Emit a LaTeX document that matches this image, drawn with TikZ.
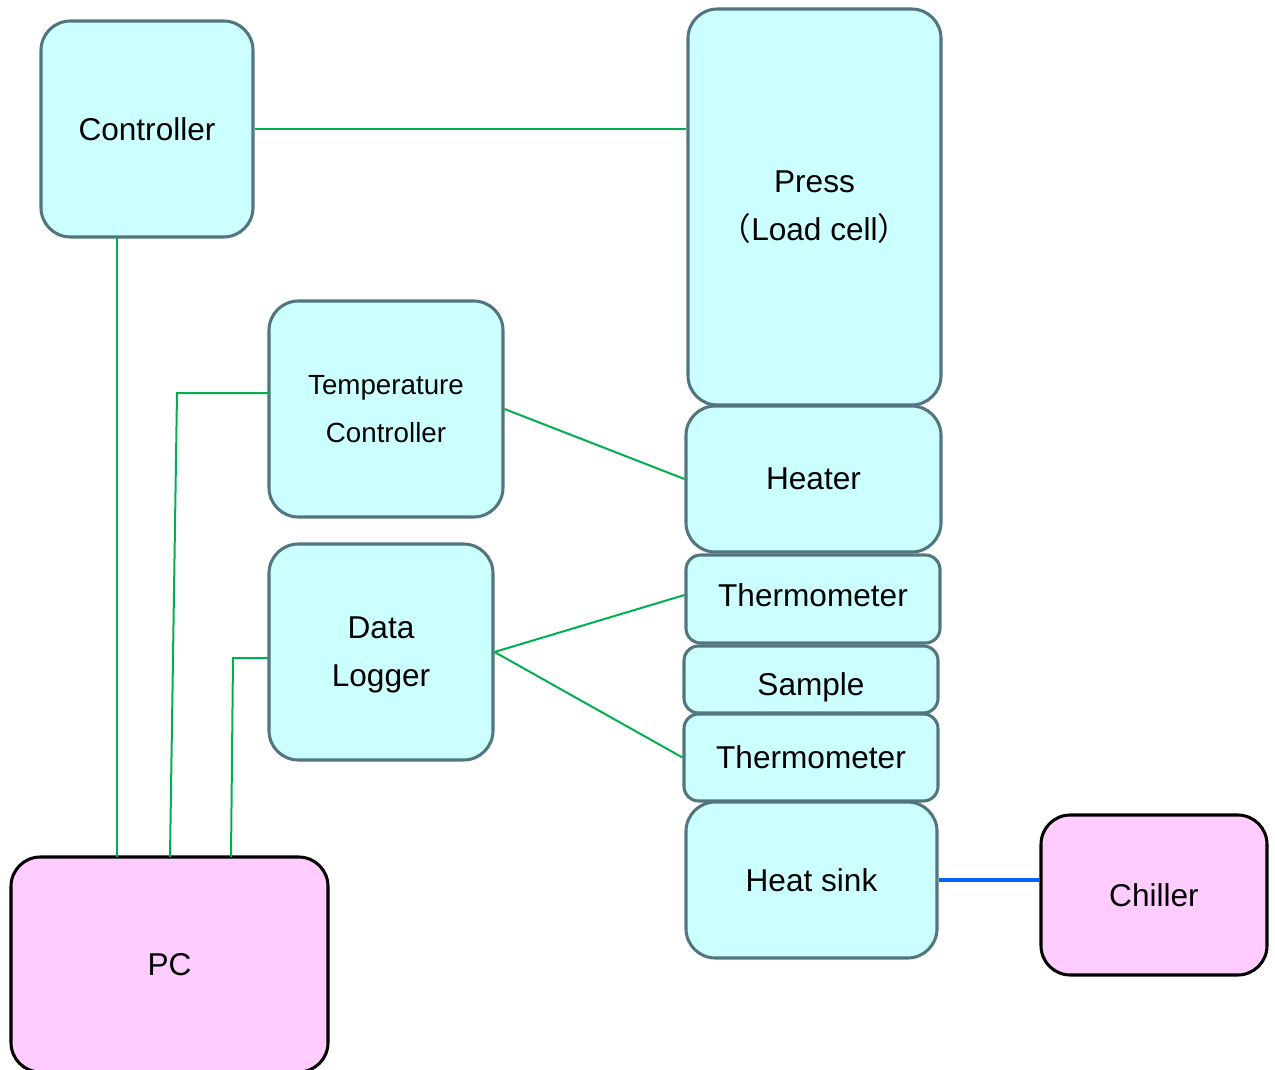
\documentclass[tikz,border=0pt]{standalone}
\usepackage{fontspec}
\setmainfont{Liberation Sans}
\newfontfamily\cjk{Noto Sans CJK SC}
\definecolor{bfill}{HTML}{CCFFFF}
\definecolor{pfill}{HTML}{FFCCFF}
\definecolor{bline}{HTML}{537580}
\definecolor{gline}{HTML}{00B050}
\definecolor{blu}{HTML}{0066FF}
\tikzset{
  cbox/.style={draw=bline, fill=bfill, line width=2.3pt, rounded corners=22pt, inner sep=0pt, align=center, font=\fontsize{23.7}{36}\selectfont},
  sbox/.style={cbox, rounded corners=11pt},
  pbox/.style={draw=black, fill=pfill, line width=2.3pt, rounded corners=22pt, inner sep=0pt, align=center, font=\fontsize{23.7}{36}\selectfont},
  wire/.style={draw=gline, line width=1.5pt},
  sz/.style 2 args={minimum width=#1*0.75pt, minimum height=#2*0.75pt},
}
\begin{document}
\begin{tikzpicture}[x=0.75pt,y=-0.75pt]
\useasboundingbox (0,0) rectangle (1275,1070);
\node[cbox, sz={212}{216}] (ctrl) at (147,129) {Controller};
\node[cbox, sz={253}{396}] (press) at (814.5,207) {Press\\{\cjk（}Load cell{\cjk）}\rule{0pt}{0pt}};
\node[cbox, sz={234}{216}, font=\fontsize{20.8}{36}\selectfont] (tc) at (386,409) {Temperature\\Controller};
\node[cbox, sz={255}{146}] (heater) at (813.5,479) {Heater};
\node[cbox, sz={224}{216}] (dl) at (381,652) {Data\\\smash{Logger}};
\node[sbox, sz={254}{88}, text height=17.3pt, text depth=6pt] (th1) at (813,599) {Thermometer};
\node[sbox, sz={254}{67}, text height=27pt, text depth=3pt] (sample) at (811,679.5) {Sample};
\node[sbox, sz={254}{87}] (th2) at (811,757.5) {Thermometer};
\node[cbox, sz={251}{156}] (hs) at (811.5,880) {Heat sink};
\node[pbox, sz={226}{160}] (chiller) at (1154,895) {Chiller};
\node[pbox, sz={317}{215}] (pc) at (169.5,964.5) {PC};
% connectors
\draw[wire] (ctrl.east) -- (press.west |- ctrl.east);
\coordinate (c1) at (117,237);
\coordinate (p1) at (117,857);
\draw[wire] (c1) -- (p1);
\coordinate (t0) at (269,393);
\coordinate (t1) at (177,393);
\coordinate (p2) at (170,857);
\draw[wire] (t0) -- (t1) -- (p2);
\coordinate (d0) at (268,658);
\coordinate (d1) at (233,658);
\coordinate (p3) at (231,857);
\draw[wire] (d0) -- (d1) -- (p3);
\draw[wire] (tc.east) -- (heater.west);
\draw[wire] (dl.east) -- ([yshift=3pt]th1.west);
\draw[wire] (dl.east) -- (th2.west);
\draw[draw=blu, line width=3pt] (hs.east) -- (chiller.west |- hs.east);
\end{tikzpicture}
\end{document}
